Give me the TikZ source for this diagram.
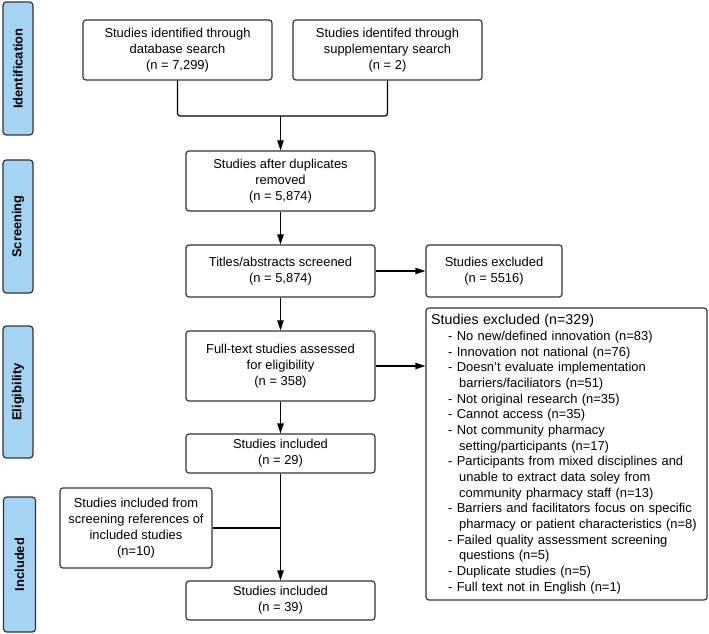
\documentclass[tikz,border=0pt]{standalone}
\usepackage{fontspec}
\setmainfont{Liberation Sans}
\usetikzlibrary{arrows.meta}
\definecolor{labfill}{HTML}{A4D3F3}
\definecolor{edge}{HTML}{333333}
\begin{document}
\begin{tikzpicture}[x=0.75pt,y=-0.75pt,
  every node/.style={font=\fontsize{9.7}{12}\selectfont},
  box/.style={draw=edge, line width=0.9pt, rounded corners=2.2pt, fill=white, align=center, inner sep=2pt},
  lab/.style={draw=edge, line width=0.9pt, rounded corners=2.5pt, fill=labfill, rotate=90,
    font=\fontsize{9.7}{12}\selectfont\bfseries, minimum height=22.5pt},
  conn/.style={draw=black, line width=0.9pt},
  arr/.style={conn, -{Triangle[length=7.5pt,width=4.8pt]}}]
\useasboundingbox (0,0) rectangle (709,634);
% phase labels
\node[lab, minimum width=99.75pt] (l1) at (18,68.5) {Identification};
\node[lab, minimum width=99.75pt] (l2) at (18,226.5) {Screening};
\node[lab, minimum width=99pt] (l3) at (18,392) {Eligibility};
\node[lab, minimum width=101.25pt, minimum height=24pt] (l4) at (19.5,564.5) {Included};
% boxes
\node[box, minimum width=141.75pt, minimum height=45pt] (b1) at (177.5,50)
  {Studies identified through\\database search\\(n = 7,299)};
\node[box, minimum width=141.75pt, minimum height=45pt] (b2) at (387.5,50)
  {Studies identifed through\\supplementary search\\(n = 2)};
\node[box, minimum width=141.75pt, minimum height=45pt] (b3) at (280.5,181)
  {Studies after duplicates\\removed\\(n = 5,874)};
\node[box, minimum width=141.75pt, minimum height=39pt] (b4) at (280.5,271)
  {Titles/abstracts screened\\(n = 5,874)};
\node[box, minimum width=141.75pt, minimum height=52.5pt] (b5) at (280.5,366)
  {Full-text studies assessed\\for eligibility\\(n = 358)};
\node[box, minimum width=141.75pt, minimum height=29.25pt] (b6) at (280.5,453.5)
  {Studies included\\(n = 29)};
\node[box, minimum width=114pt, minimum height=60pt] (b7) at (136,528)
  {Studies included from\\screening references of\\included studies\\(n=10)};
\node[box, minimum width=141.75pt, minimum height=29.25pt] (b8) at (280.5,600.5)
  {Studies included\\(n = 39)};
\node[box, minimum width=102pt, minimum height=39pt] (e1) at (494,271)
  {Studies excluded\\(n = 5516)};
\node[box, minimum width=210.75pt, minimum height=219pt, align=left, inner sep=3pt,
  text width=203pt, font=\fontsize{9.7}{11.74}\selectfont] (e2) at (566.5,454)
  {{\fontsize{10.7}{11.74}\selectfont Studies excluded (n=329)}\\[0.2pt]
   \hspace*{12.75pt}- No new/defined innovation (n=83)\\
   \hspace*{12.75pt}- Innovation not national (n=76)\\
   \hspace*{12.75pt}- Doesn't evaluate implementation\\
   \hspace*{21pt}barriers/faciliators (n=51)\\
   \hspace*{12.75pt}- Not original research (n=35)\\
   \hspace*{12.75pt}- Cannot access (n=35)\\
   \hspace*{12.75pt}- Not community pharmacy\\
   \hspace*{21pt}setting/participants (n=17)\\
   \hspace*{12.75pt}- Participants from mixed disciplines and\\
   \hspace*{21pt}unable to extract data soley from\\
   \hspace*{21pt}community pharmacy staff (n=13)\\
   \hspace*{12.75pt}- Barriers and facilitators focus on specific\\
   \hspace*{21pt}pharmacy or patient characteristics (n=8)\\
   \hspace*{12.75pt}- Failed quality assessment screening\\
   \hspace*{21pt}questions (n=5)\\
   \hspace*{12.75pt}- Duplicate studies (n=5)\\
   \hspace*{12.75pt}- Full text not in English (n=1)};
% connectors
\coordinate (m) at (280.5,116);
\draw[conn, rounded corners=2pt] (b1.south) |- (m) -| (b2.south);
\draw[arr] (m) -- (b3.north);
\draw[arr] (b3.south) -- (b4.north);
\draw[arr] (b4.south) -- (b5.north);
\draw[arr] (b5.south) -- (b6.north);
\draw[arr] (b4.east) -- (e1.west);
\draw[arr] (b5.east) -- (b5.east -| e2.west);
\draw[arr] (b6.south) -- (b8.north);
\draw[conn] (b7.east) -- (b7.east -| b6.south);
\end{tikzpicture}
\end{document}
